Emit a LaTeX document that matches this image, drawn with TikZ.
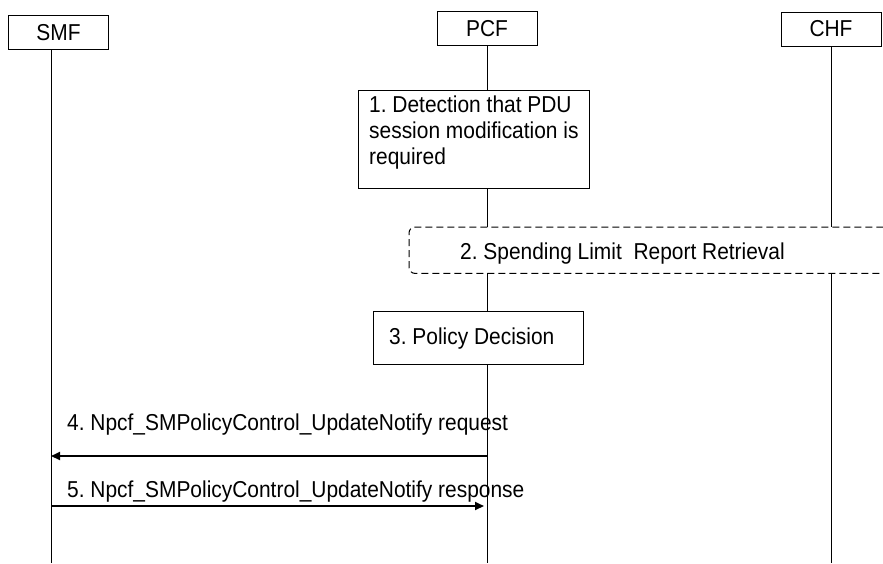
\documentclass[tikz,border=0pt]{standalone}
\usepackage{fontspec}
\setmainfont{Liberation Sans}[FakeStretch=0.91]
\frenchspacing
\usetikzlibrary{arrows.meta}

\begin{document}
\begin{tikzpicture}[x=1pt, y=-1pt,
	font=\fontsize{23}{26}\selectfont,
	entity/.style={draw, line width=1pt, minimum width=100pt, minimum height=34pt, inner sep=0pt},
	stepbox/.style={draw, fill=white, line width=1.1pt, inner sep=0pt},
	txt/.style={inner sep=0pt, anchor=base west},
	life/.style={line width=1pt},
	msg/.style={line width=1.9pt, -{Triangle[length=9pt, width=8pt]}}]
	\useasboundingbox (0,0) rectangle (883,563);
	% entities
	\node[entity] (smf) at (58.5,32.5) {SMF};
	\node[entity] (pcf) at (487,28.5) {PCF};
	\node[entity] (chf) at (831,29) {CHF};
	\coordinate (smfend) at (51,563);
	\coordinate (pcfend) at (487.5,563);
	\coordinate (chfend) at (831.5,563);
	\draw[life] (smf.south -| smfend) -- (smfend);
	\draw[life] (pcf.south -| pcfend) -- (pcfend);
	\draw[life] (chf.south -| chfend) -- (chfend);
	% step 1
	\node[stepbox, minimum width=231pt, minimum height=98pt, anchor=north west] (detect) at (358,90) {};
	\node[txt, anchor=north west] (detecttxt) at (369,93.8)
		{\begin{tabular}{@{}l@{}}1. Detection that PDU\\session modification is\\required\end{tabular}};
	% step 2
	\node[fill=white, minimum width=474pt, minimum height=46pt, inner sep=0pt, anchor=north west] (spend) at (409,227) {};
	\draw[line width=1pt, dash pattern=on 7pt off 4pt, rounded corners=6pt]
		(spend.north east) -- (spend.north west) -- (spend.south west) -- (spend.south east);
	\node[txt] (spendtxt) at (460,259) {2. Spending Limit\ \ Report Retrieval};
	% step 3
	\node[stepbox, minimum width=210pt, minimum height=53pt, anchor=north west] (decide) at (373,311) {};
	\node[txt] (decidetxt) at (389,344) {3. Policy Decision};
	% request
	\coordinate (reqpcf) at (487.5,456);
	\coordinate (reqsmf) at (51,456);
	\draw[msg] (reqpcf) -- (reqsmf);
	\node[txt] (reqtxt) at (67,430) {4. Npcf\_SMPolicyControl\_UpdateNotify request};
	% response
	\coordinate (rspsmf) at (51,506);
	\coordinate (rsppcf) at (484,506);
	\draw[msg] (rspsmf) -- (rsppcf);
	\node[txt] (rsptxt) at (67,497) {5. Npcf\_SMPolicyControl\_UpdateNotify response};
\end{tikzpicture}
\end{document}
